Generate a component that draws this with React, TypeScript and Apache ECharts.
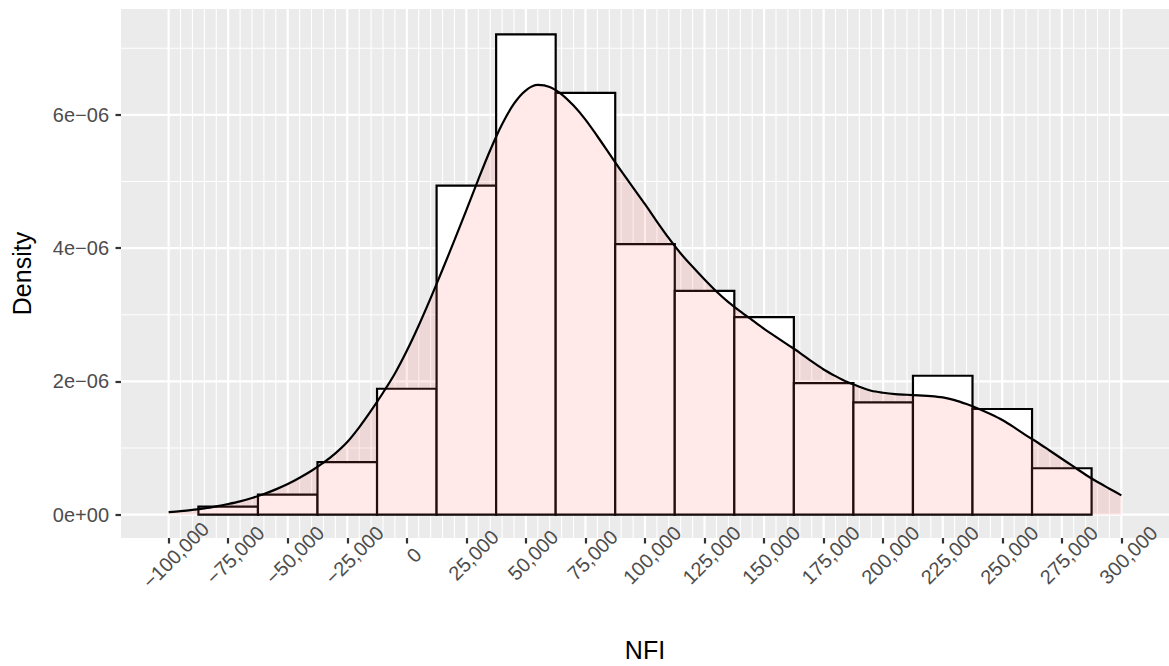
import React, { useEffect, useRef } from "react";
import * as echarts from "echarts";

// Histogram (density scale, units of 1e-6)
const binCenters = [-75000, -50000, -25000, 0, 25000, 50000, 75000, 100000, 125000, 150000, 175000, 200000, 225000, 250000, 275000];
const binDensity = [0.12, 0.3, 0.79, 1.89, 4.94, 7.21, 6.33, 4.06, 3.36, 2.965, 1.976, 1.685, 2.085, 1.586, 0.697];
const binWidth = 25000;

// Kernel density estimate (units of 1e-6)
const densityX = [
  -100000, -95000, -90000, -85000, -80000, -75000, -70000, -65000, -60000, -55000,
  -50000, -45000, -40000, -35000, -30000, -25000, -20000, -15000, -10000, -5000,
  0, 5000, 10000, 15000, 20000, 25000, 30000, 35000, 40000, 45000,
  50000, 55000, 60000, 65000, 70000, 75000, 80000, 85000, 90000, 95000,
  100000, 105000, 110000, 115000, 120000, 125000, 130000, 135000, 140000, 145000,
  150000, 155000, 160000, 165000, 170000, 175000, 180000, 185000, 190000, 195000,
  200000, 205000, 210000, 215000, 220000, 225000, 230000, 235000, 240000, 245000,
  250000, 255000, 260000, 265000, 270000, 275000, 280000, 285000, 290000, 295000,
  300000,
];
const densityY = [
  0.038, 0.053, 0.072, 0.095, 0.125, 0.16, 0.2, 0.25, 0.31, 0.38,
  0.46, 0.555, 0.66, 0.78, 0.92, 1.09, 1.31, 1.56, 1.83, 2.12,
  2.46, 2.84, 3.25, 3.68, 4.12, 4.57, 5.03, 5.47, 5.86, 6.17,
  6.37, 6.45, 6.42, 6.31, 6.14, 5.93, 5.68, 5.42, 5.16, 4.91,
  4.66, 4.4, 4.15, 3.92, 3.72, 3.53, 3.35, 3.19, 3.05, 2.92,
  2.79, 2.67, 2.55, 2.43, 2.3, 2.18, 2.08, 1.99, 1.92, 1.86,
  1.83, 1.81, 1.8, 1.79, 1.78, 1.76, 1.72, 1.66, 1.59, 1.51,
  1.42, 1.31, 1.19, 1.08, 0.96, 0.84, 0.72, 0.6, 0.49, 0.39,
  0.29,
];

const xTicks = [-100000, -75000, -50000, -25000, 0, 25000, 50000, 75000, 100000, 125000, 150000, 175000, 200000, 225000, 250000, 275000, 300000];
const xTickLabels = ["\u2212100,000", "\u221275,000", "\u221250,000", "\u221225,000", "0", "25,000", "50,000", "75,000", "100,000", "125,000", "150,000", "175,000", "200,000", "225,000", "250,000", "275,000", "300,000"];
const xMinorPerMajor = 5;
const yTicks = [0, 2, 4, 6];
const yTickLabels = ["0e+00", "2e\u221206", "4e\u221206", "6e\u221206"];
const yMinorTicks = [1, 3, 5, 7];

const X_MIN = -120000;
const X_MAX = 320000;
const Y_MIN = -0.35;
const Y_MAX = 7.59;

const FONT = "Liberation Sans, Arial, Helvetica, sans-serif";
const TICK_FONT = 20;
const TITLE_FONT = 25;

export default function App() {
  const ref = useRef<HTMLDivElement>(null);

  useEffect(() => {
    if (!ref.current) return;
    const chart = echarts.init(ref.current, undefined, { renderer: "svg" });

    // grid lines: [value, orientation(0 vertical / 1 horizontal), major(1/0)]
    const gridData: number[][] = [];
    for (let i = 0; i < xTicks.length; i++) {
      gridData.push([xTicks[i], 0, 1]);
      if (i < xTicks.length - 1) {
        const step = (xTicks[i + 1] - xTicks[i]) / xMinorPerMajor;
        for (let k = 1; k < xMinorPerMajor; k++) gridData.push([xTicks[i] + k * step, 0, 0]);
      }
    }
    yTicks.forEach((v) => gridData.push([v, 1, 1]));
    yMinorTicks.forEach((v) => gridData.push([v, 1, 0]));

    const fmtX = (v: number) => {
      const i = xTicks.findIndex((t) => Math.abs(t - v) < 1e-6);
      return i >= 0 ? xTickLabels[i] : "";
    };
    const fmtY = (v: number) => {
      const i = yTicks.findIndex((t) => Math.abs(t - v) < 1e-9);
      return i >= 0 ? yTickLabels[i] : "";
    };

    chart.setOption({
      animation: false,
      backgroundColor: "#ffffff",
      grid: {
        left: 121,
        top: 9,
        right: 0,
        bottom: 128,
        show: true,
        backgroundColor: "#EBEBEB",
        borderWidth: 0,
        containLabel: false,
        outerBoundsMode: "none",
      },
      xAxis: {
        type: "value",
        min: X_MIN,
        max: X_MAX,
        z: 10,
        name: "NFI",
        nameLocation: "middle",
        nameGap: 99,
        nameTextStyle: { color: "#000", fontSize: TITLE_FONT, fontFamily: FONT },
        axisLine: { show: false, onZero: false },
        splitLine: { show: false },
        axisTick: {
          show: true,
          customValues: xTicks,
          length: 5.5,
          lineStyle: { color: "#333333", width: 2.2 },
        },
        axisLabel: {
          customValues: xTicks,
          rotate: 45,
          align: "center",
          verticalAlign: "top",
          margin: 10,
          color: "#4D4D4D",
          fontSize: TICK_FONT,
          fontFamily: FONT,
          formatter: fmtX,
        },
      },
      yAxis: {
        type: "value",
        min: Y_MIN,
        max: Y_MAX,
        z: 10,
        name: "Density",
        nameLocation: "middle",
        nameRotate: 90,
        nameGap: 87,
        nameTextStyle: { color: "#000", fontSize: TITLE_FONT, fontFamily: FONT },
        axisLine: { show: false, onZero: false },
        splitLine: { show: false },
        axisTick: {
          show: true,
          customValues: yTicks,
          length: 5.5,
          lineStyle: { color: "#333333", width: 2.2 },
        },
        axisLabel: {
          customValues: yTicks,
          margin: 12,
          color: "#4D4D4D",
          fontSize: TICK_FONT,
          fontFamily: FONT,
          formatter: fmtY,
        },
      },
      series: [
        {
          type: "custom",
          name: "grid",
          silent: true,
          z: 1,
          clip: true,
          data: gridData,
          renderItem: (params: any, api: any) => {
            const v = api.value(0);
            const orient = api.value(1);
            const major = api.value(2);
            const cs = params.coordSys;
            const lw = major ? 2.2 : 1.1;
            if (orient === 0) {
              const x = api.coord([v, 0])[0];
              return {
                type: "line",
                shape: { x1: x, y1: cs.y, x2: x, y2: cs.y + cs.height },
                style: { stroke: "#ffffff", lineWidth: lw },
              };
            }
            const y = api.coord([0, v])[1];
            return {
              type: "line",
              shape: { x1: cs.x, y1: y, x2: cs.x + cs.width, y2: y },
              style: { stroke: "#ffffff", lineWidth: lw },
            };
          },
        },
        {
          type: "custom",
          name: "histogram",
          silent: true,
          z: 2,
          data: binCenters.map((c, i) => [c, binDensity[i]]),
          renderItem: (params: any, api: any) => {
            const c = api.value(0);
            const d = api.value(1);
            const p0 = api.coord([c - binWidth / 2, d]);
            const p1 = api.coord([c + binWidth / 2, 0]);
            return {
              type: "rect",
              shape: { x: p0[0], y: p0[1], width: p1[0] - p0[0], height: p1[1] - p0[1] },
              style: { fill: "#ffffff", stroke: "#000000", lineWidth: 2.2 },
            };
          },
        },
        {
          type: "line",
          name: "density",
          z: 3,
          silent: true,
          symbol: "none",
          showSymbol: false,
          smooth: 0.3,
          data: densityX.map((x, i) => [x, densityY[i]]),
          lineStyle: { color: "#000000", width: 2.2 },
          areaStyle: { color: "rgba(255,102,102,0.2)" },
        },
      ],
    });

    return () => {
      chart.dispose();
    };
  }, []);

  return (
    <div
      ref={ref}
      style={{ position: "absolute", left: 0, top: 0, width: 1169, height: 666, background: "#fff" }}
    />
  );
}
